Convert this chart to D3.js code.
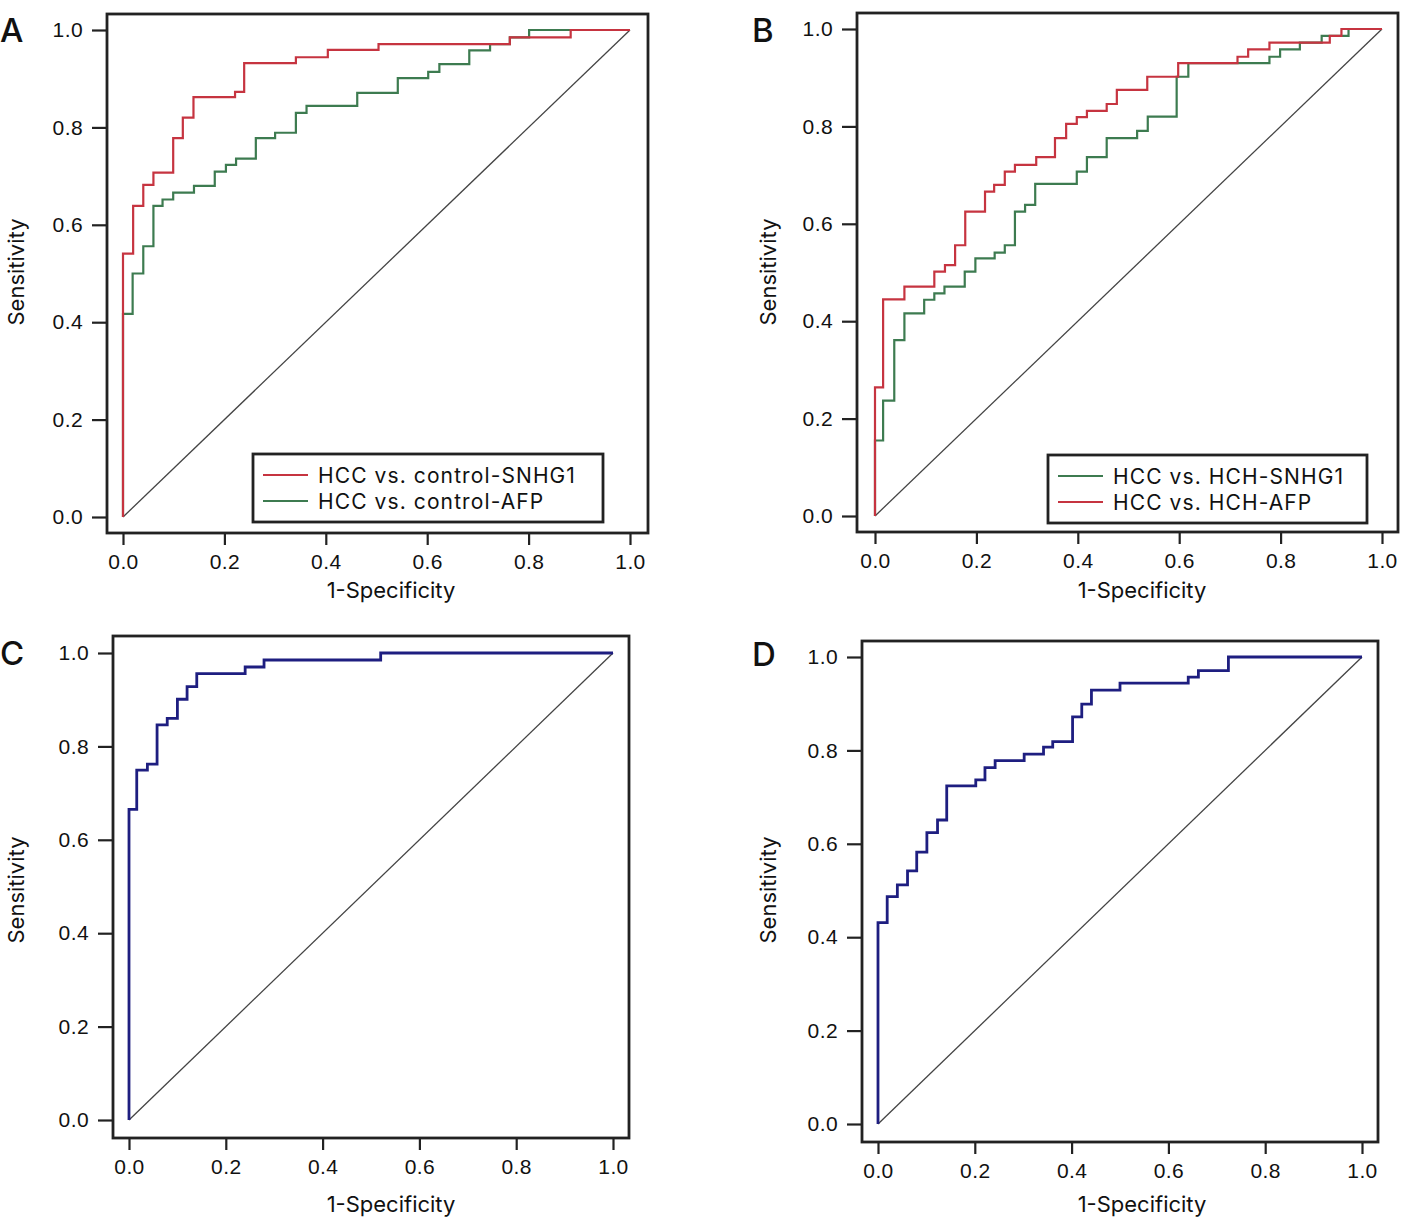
<!DOCTYPE html>
<html>
<head>
<meta charset="utf-8">
<script src="https://cdn.jsdelivr.net/npm/d3@7"></script>
<style>
  body { margin: 0; background: #ffffff; }
  svg { display: block; font-family: Inter, "Noto Sans", sans-serif; }
</style>
</head>
<body>
<div id="graph"></div>
<script>

//----------------------------------------------------------
// chart data (step corners)

var g_tick_values = [0, 0.2, 0.4, 0.6, 0.8, 1.0];
var g_tick_labels = ["0.0", "0.2", "0.4", "0.6", "0.8", "1.0"];

// A: HCC vs. control
var g_a_snhg1_fpr = [0, 0, 0.020, 0.040, 0.060, 0.099, 0.118, 0.139, 0.221, 0.239, 0.341, 0.404, 0.504, 0.763, 0.883, 1.0];
var g_a_snhg1_tpr = [0, 0.541, 0.639, 0.682, 0.707, 0.778, 0.820, 0.862, 0.873, 0.932, 0.944, 0.959, 0.971, 0.985, 1.0, 1.0];

var g_a_afp_fpr = [0, 0, 0.019, 0.040, 0.060, 0.078, 0.099, 0.140, 0.181, 0.203, 0.223, 0.262, 0.300, 0.341, 0.362, 0.462, 0.542, 0.602, 0.624, 0.683, 0.724, 0.763, 0.801, 1.0];
var g_a_afp_tpr = [0, 0.417, 0.500, 0.556, 0.639, 0.652, 0.666, 0.680, 0.709, 0.723, 0.736, 0.778, 0.789, 0.830, 0.844, 0.871, 0.901, 0.914, 0.930, 0.958, 0.971, 0.985, 1.0, 1.0];

// B: HCC vs. HCH
var g_b_snhg1_fpr = [0, 0, 0.016, 0.038, 0.058, 0.097, 0.117, 0.137, 0.177, 0.198, 0.236, 0.256, 0.276, 0.296, 0.316, 0.398, 0.418, 0.457, 0.517, 0.538, 0.595, 0.618, 0.778, 0.799, 0.838, 0.881, 0.934, 1.0];
var g_b_snhg1_tpr = [0, 0.155, 0.237, 0.361, 0.416, 0.444, 0.457, 0.471, 0.502, 0.529, 0.541, 0.556, 0.625, 0.639, 0.682, 0.707, 0.737, 0.776, 0.791, 0.820, 0.902, 0.930, 0.943, 0.958, 0.972, 0.986, 1.0, 1.0];

var g_b_afp_fpr = [0, 0, 0.016, 0.058, 0.117, 0.138, 0.158, 0.178, 0.217, 0.235, 0.256, 0.276, 0.318, 0.355, 0.377, 0.398, 0.418, 0.457, 0.477, 0.537, 0.598, 0.715, 0.736, 0.778, 0.897, 0.920, 1.0];
var g_b_afp_tpr = [0, 0.264, 0.445, 0.471, 0.502, 0.515, 0.556, 0.625, 0.666, 0.680, 0.707, 0.721, 0.737, 0.776, 0.805, 0.819, 0.832, 0.846, 0.875, 0.902, 0.930, 0.943, 0.958, 0.972, 0.986, 1.0, 1.0];

// C
var g_c_fpr = [0, 0, 0.016, 0.038, 0.058, 0.079, 0.100, 0.120, 0.140, 0.240, 0.279, 0.520, 1.0];
var g_c_tpr = [0, 0.665, 0.749, 0.762, 0.846, 0.860, 0.901, 0.928, 0.956, 0.970, 0.985, 1.0, 1.0];

// D
var g_d_fpr = [0, 0, 0.019, 0.040, 0.061, 0.080, 0.101, 0.123, 0.142, 0.202, 0.221, 0.242, 0.302, 0.342, 0.361, 0.402, 0.421, 0.441, 0.500, 0.641, 0.662, 0.724, 1.0];
var g_d_tpr = [0, 0.431, 0.487, 0.512, 0.542, 0.582, 0.624, 0.651, 0.724, 0.737, 0.763, 0.778, 0.792, 0.807, 0.819, 0.872, 0.899, 0.929, 0.944, 0.957, 0.971, 1.0, 1.0];

var g_red = "#c63440";
var g_green = "#3d7b50";
var g_blue = "#1e1e80";


//----------------------------------------------------------
// panel layout

var g_panels = [
    {
        letter: "A", letter_pos: [0, 42],
        x_range: [123, 630], y_range: [517, 30],
        frame: [107, 14, 648, 533],
        x_title: [391, 598], y_title: [24, 272],
        curves: [
            { fpr: g_a_afp_fpr, tpr: g_a_afp_tpr, colour: g_green, width: 2.2 },
            { fpr: g_a_snhg1_fpr, tpr: g_a_snhg1_tpr, colour: g_red, width: 2.2 }
        ],
        legend: {
            box: [253, 454, 603, 522],
            names: ["HCC vs. control-SNHG1", "HCC vs. control-AFP"],
            colours: [g_red, g_green]
        }
    },
    {
        letter: "B", letter_pos: [752, 42],
        x_range: [875, 1382], y_range: [516, 29],
        frame: [857, 13, 1398, 532],
        x_title: [1142, 598], y_title: [776, 272],
        curves: [
            { fpr: g_b_snhg1_fpr, tpr: g_b_snhg1_tpr, colour: g_green, width: 2.2 },
            { fpr: g_b_afp_fpr, tpr: g_b_afp_tpr, colour: g_red, width: 2.2 }
        ],
        legend: {
            box: [1048, 455, 1367, 523],
            names: ["HCC vs. HCH-SNHG1", "HCC vs. HCH-AFP"],
            colours: [g_green, g_red]
        }
    },
    {
        letter: "C", letter_pos: [0, 665],
        x_range: [129, 613], y_range: [1120, 653],
        frame: [113, 636, 629, 1138],
        x_title: [391, 1212], y_title: [24, 890],
        curves: [
            { fpr: g_c_fpr, tpr: g_c_tpr, colour: g_blue, width: 2.8 }
        ],
        legend: null
    },
    {
        letter: "D", letter_pos: [752, 666],
        x_range: [878, 1362], y_range: [1124, 657],
        frame: [862, 641, 1378, 1142],
        x_title: [1142, 1212], y_title: [776, 890],
        curves: [
            { fpr: g_d_fpr, tpr: g_d_tpr, colour: g_blue, width: 2.8 }
        ],
        legend: null
    }
];


//----------------------------------------------------------
var g_svg = d3.select("#graph")
  .append("svg")
    .attr("width", 1409)
    .attr("height", 1219);


function StyleAxis(axis) {
    axis.select(".domain").remove();
    axis.selectAll(".tick line")
        .attr("stroke", "#222")
        .attr("stroke-width", 2.2);
    axis.selectAll(".tick text")
        .attr("fill", "#111")
        .attr("font-size", 21)
        .attr("letter-spacing", 0.4);
}


function DrawPanel(panel) {
    const x = d3.scaleLinear().domain([0, 1]).range(panel.x_range);
    const y = d3.scaleLinear().domain([0, 1]).range(panel.y_range);
    const f = panel.frame;
    const g = g_svg.append("g");

    const tick_format = function (d, i) {
        return g_tick_labels[i];
    };

    g.append("g")
        .attr("transform", "translate(" + f[0] + ",0)")
        .call(d3.axisLeft(y).tickValues(g_tick_values).tickFormat(tick_format).tickSize(15).tickPadding(9))
        .call(StyleAxis);

    g.append("g")
        .attr("transform", "translate(0," + f[3] + ")")
        .call(d3.axisBottom(x).tickValues(g_tick_values).tickFormat(tick_format).tickSize(12).tickPadding(9))
        .call(StyleAxis);

    // chance line
    g.append("line")
        .attr("x1", x(0)).attr("y1", y(0))
        .attr("x2", x(1)).attr("y2", y(1))
        .attr("stroke", "#444")
        .attr("stroke-width", 1.3);

    const line = d3.line()
        .x(function (d) { return x(d[0]); })
        .y(function (d) { return y(d[1]); })
        .curve(d3.curveStepAfter);

    panel.curves.forEach(function (c) {
        g.append("path")
            .attr("d", line(d3.zip(c.fpr, c.tpr)))
            .attr("fill", "none")
            .attr("stroke", c.colour)
            .attr("stroke-width", c.width);
    });

    g.append("rect")
        .attr("x", f[0]).attr("y", f[1])
        .attr("width", f[2] - f[0])
        .attr("height", f[3] - f[1])
        .attr("fill", "none")
        .attr("stroke", "#222")
        .attr("stroke-width", 2.8);

    g.append("text")
        .attr("x", panel.x_title[0])
        .attr("y", panel.x_title[1])
        .attr("text-anchor", "middle")
        .attr("font-size", 22)
        .attr("fill", "#111")
        .text("1-Specificity");

    g.append("text")
        .attr("transform", "translate(" + panel.y_title[0] + "," + panel.y_title[1] + ") rotate(-90)")
        .attr("text-anchor", "middle")
        .attr("font-size", 22)
        .attr("fill", "#111")
        .text("Sensitivity");

    g.append("text")
        .attr("x", panel.letter_pos[0])
        .attr("y", panel.letter_pos[1])
        .attr("font-size", 33)
        .attr("font-weight", 500)
        .attr("fill", "#111")
        .text(panel.letter);

    if (panel.legend) {
        DrawLegend(g, panel.legend);
    }
}


function DrawLegend(g, legend) {
    const b = legend.box;
    g.append("rect")
        .attr("x", b[0]).attr("y", b[1])
        .attr("width", b[2] - b[0])
        .attr("height", b[3] - b[1])
        .attr("fill", "#fff")
        .attr("stroke", "#222")
        .attr("stroke-width", 2.8);

    legend.names.forEach(function (name, i) {
        const cy = b[1] + 21 + i * 26;
        g.append("line")
            .attr("x1", b[0] + 10).attr("x2", b[0] + 55)
            .attr("y1", cy).attr("y2", cy)
            .attr("stroke", legend.colours[i])
            .attr("stroke-width", 2);
        g.append("text")
            .attr("x", b[0] + 65)
            .attr("y", cy + 8)
            .attr("font-size", 21)
            .attr("letter-spacing", 1.1)
            .attr("fill", "#111")
            .text(name);
    });
}


//----------------------------------------------------------
g_panels.forEach(DrawPanel);

</script>
</body>
</html>
